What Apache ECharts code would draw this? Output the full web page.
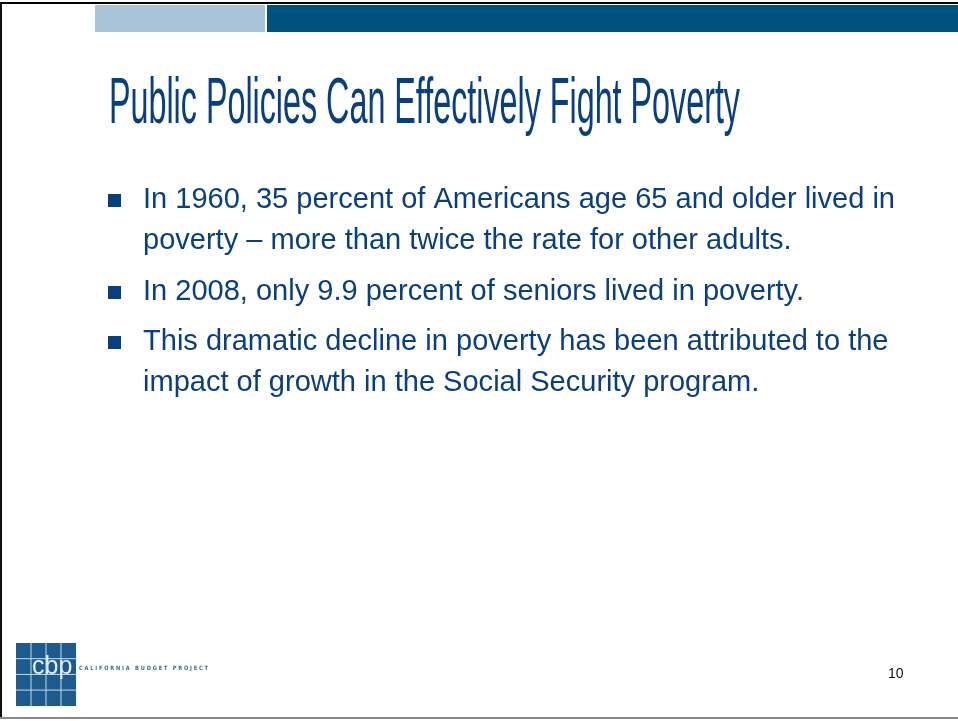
<!DOCTYPE html>
<html>
<head>
<meta charset="utf-8">
<script src="https://cdn.jsdelivr.net/npm/echarts@6/dist/echarts.min.js"></script>
<style>
  html, body { margin: 0; padding: 0; background: #fff; }
  #main { width: 958px; height: 721px; }
</style>
</head>
<body>
<div id="main"></div>
<script>
// slide content
var titleText = 'Public Policies Can Effectively Fight Poverty';
var bulletLines = [
  ['In 1960, 35 percent of Americans age 65 and older lived in',
   'poverty \u2013 more than twice the rate for other adults.'],
  ['In 2008, only 9.9 percent of seniors lived in poverty.'],
  ['This dramatic decline in poverty has been attributed to the',
   'impact of growth in the Social Security program.']
];
var logoText = 'cbp';
var orgName = 'C A L I F O R N I A   B U D G E T   P R O J E C T';
var pageNumber = '10';

window.onload = function () {
  var navy = '#0a3f7f';

  // measure text so the fonts can be squeezed to the slide widths
  var cv = document.createElement('canvas').getContext('2d');
  function textWidth(str, font) {
    cv.font = font;
    return cv.measureText(str).width;
  }
  var titleFont = '65px "Liberation Sans", Arial, sans-serif';
  var titleScale = 631 / textWidth(titleText, titleFont);
  var bodyFont = '29px "Liberation Sans", Arial, sans-serif';
  var bodyScale = 752 / textWidth(bulletLines[0][0], bodyFont);
  var orgFont = 'bold 6px "DejaVu Sans", sans-serif';
  var orgScale = 129 / textWidth(orgName, orgFont);

  var elements = [];

  // frame lines
  elements.push({ type: 'rect', shape: { x: 0, y: 2, width: 958, height: 2 }, style: { fill: '#000' } });
  elements.push({ type: 'rect', shape: { x: 0, y: 2, width: 2, height: 717 }, style: { fill: '#111' } });
  elements.push({ type: 'rect', shape: { x: 0, y: 717, width: 958, height: 2 }, style: { fill: '#8a8a8a' } });

  // top colour bars
  elements.push({ type: 'rect', shape: { x: 95, y: 5, width: 170, height: 27 }, style: { fill: '#a8c2d8' } });
  elements.push({ type: 'rect', shape: { x: 267, y: 5, width: 691, height: 27 }, style: { fill: '#00527e' } });

  // title
  elements.push({
    type: 'text', x: 109, y: 105, scaleX: titleScale,
    style: { text: titleText, font: titleFont, fill: navy, verticalAlign: 'middle' }
  });

  // bullets
  var baselines = [[210, 251], [302], [352, 393]];
  bulletLines.forEach(function (lines, i) {
    elements.push({
      type: 'rect', shape: { x: 108, y: baselines[i][0] - 16, width: 13, height: 13 },
      style: { fill: navy }
    });
    lines.forEach(function (ln, j) {
      elements.push({
        type: 'text', x: 143, y: baselines[i][j] - 10, scaleX: bodyScale,
        style: { text: ln, font: bodyFont, fill: navy, verticalAlign: 'middle' }
      });
    });
  });

  // logo
  var lx = 16, ly = 643, ls = 60, lh = 63;
  elements.push({ type: 'rect', shape: { x: lx, y: ly, width: ls, height: lh }, style: { fill: '#1d5a8e' } });
  for (var k = 1; k < 4; k++) {
    elements.push({ type: 'line', shape: { x1: lx + k * 15, y1: ly, x2: lx + k * 15, y2: ly + lh }, style: { stroke: '#c9d9e8', lineWidth: 1 } });
    elements.push({ type: 'line', shape: { x1: lx, y1: ly + k * 15.7, x2: lx + ls, y2: ly + k * 15.7 }, style: { stroke: '#c9d9e8', lineWidth: 1 } });
  }
  elements.push({
    type: 'text', x: 32, y: 667,
    style: { text: logoText, font: '25px "Liberation Sans", sans-serif', fill: '#e4eef7', verticalAlign: 'middle' }
  });
  elements.push({
    type: 'text', x: 79, y: 668, scaleX: orgScale,
    style: { text: orgName, font: orgFont, fill: '#3c6a92', verticalAlign: 'middle' }
  });

  // page number
  elements.push({
    type: 'text', x: 888, y: 674,
    style: { text: pageNumber, font: '14px "Liberation Sans", sans-serif', fill: '#111', verticalAlign: 'middle' }
  });

  var chart = echarts.init(document.getElementById('main'));
  chart.setOption({
    backgroundColor: '#ffffff',
    animation: false,
    graphic: { elements: elements }
  });
};
</script>
</body>
</html>
